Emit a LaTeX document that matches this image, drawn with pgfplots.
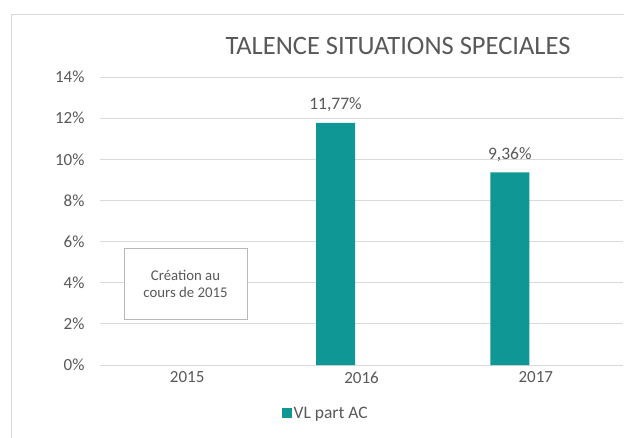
\documentclass[border=0pt]{standalone}
\usepackage{pgfplots}
\pgfplotsset{compat=1.18}
\usepackage{fontspec}
\setmainfont{Carlito}
\definecolor{barteal}{RGB}{14,151,148}
\definecolor{txtgray}{RGB}{89,89,89}
\definecolor{gridgray}{RGB}{217,217,217}
\definecolor{bordergray}{RGB}{217,217,217}
\begin{document}
\begin{tikzpicture}[x=1pt,y=1pt]
\useasboundingbox (0,0) rectangle (624,437);
\clip (0,0) rectangle (624,437);
\fill[white] (0,0) rectangle (624,437);
\draw[bordergray, line width=1pt] (11,-20) -- (11,422) -- (700,422);
\node[txtgray, font=\fontsize{26.5}{30}\selectfont] at (398,391) {TALENCE SITUATIONS SPECIALES};
\begin{axis}[
  at={(100pt,72pt)}, anchor=south west,
  scale only axis, width=523pt, height=288pt,
  xmin=-0.5, xmax=2.5, ymin=0, ymax=14,
  xtick={0,1,2}, xticklabels={2015,2016,2017},
  ytick={0,2,...,14},
  yticklabel={\pgfmathprintnumber{\tick}\%},
  /pgf/number format/assume math mode=true,
  ymajorgrids, grid style={gridgray, line width=0.8pt},
  axis line style={draw=none},
  tick style={draw=none},
  ticklabel style={txtgray, font=\fontsize{17}{19}\selectfont},
  yticklabel style={anchor=east, xshift=-12pt},
  xticklabel style={yshift=-3pt},
  clip=false,
  legend style={at={(0.432,-0.167)}, anchor=center, draw=none, fill=none,
    font=\fontsize{17.5}{19}\selectfont, text=txtgray, inner sep=0pt},
  legend image code/.code={\fill[barteal] (0pt,-4.5pt) rectangle (9.5pt,5pt);},
]
\addplot[ybar, bar width=39pt, bar shift=-26pt, fill=barteal, draw=none,
  nodes near coords, point meta=explicit symbolic,
  every node near coord/.append style={txtgray, font=\fontsize{17.5}{19}\selectfont, yshift=7.5pt, xshift=-26pt}]
  table[meta=lab] {
  x y lab
  1 11.77 11,77\%
  2 9.36 9,36\%
  };
\addlegendentry{VL part AC}
\end{axis}
\draw[gray!55, line width=0.8pt, fill=white] (124,118) rectangle (247,189);
\node[txtgray, font=\fontsize{14.8}{17}\selectfont, align=center] at (185.5,153.5) {Création au\\cours de 2015};
\end{tikzpicture}
\end{document}
